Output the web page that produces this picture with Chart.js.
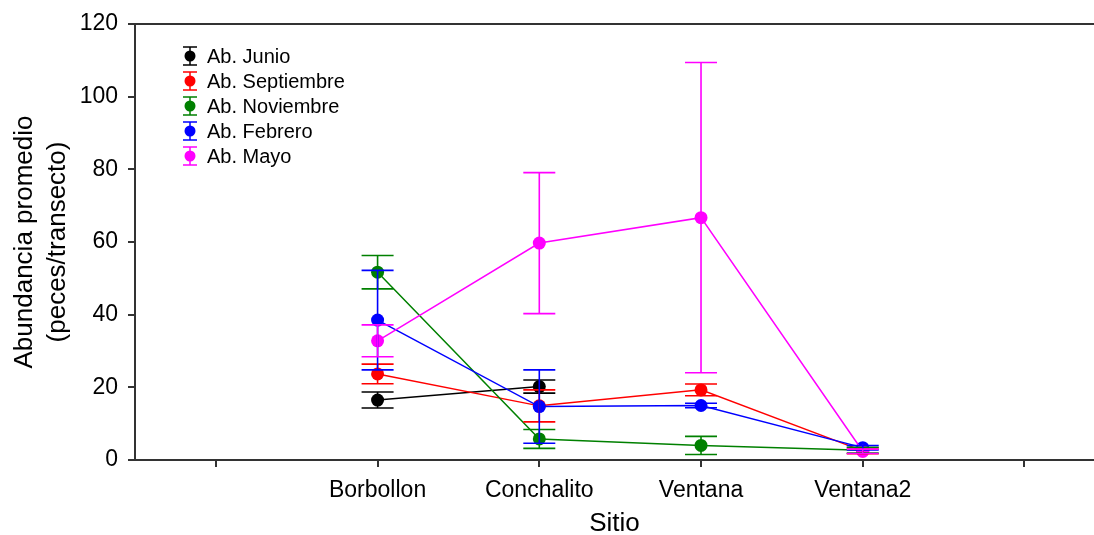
<!DOCTYPE html>
<html lang="es">
<head>
<meta charset="utf-8">
<title>Abundancia promedio por sitio</title>
<script src="https://cdn.jsdelivr.net/npm/chart.js@4.4.1/dist/chart.umd.min.js"></script>
<style>
  html, body { margin: 0; padding: 0; background: #ffffff; }
  #wrap { width: 1094px; height: 535px; }
</style>
</head>
<body>
<div id="wrap"><canvas id="chart" width="1094" height="535"></canvas></div>
<script>
// Sites sampled (x positions 1..4; 0 and 5 are empty tick slots)
const sites = ['Borbollon', 'Conchalito', 'Ventana', 'Ventana2'];
const xTickLabels = ['', 'Borbollon', 'Conchalito', 'Ventana', 'Ventana2', ''];
const yTicks = [0, 20, 40, 60, 80, 100, 120];

// Mean abundance (fish per transect) and error per sampling month
const junio       = [16.5, 20.2, null, null];
const junioErr    = [2.2, 1.8, null, null];
const septiembre  = [23.7, 14.9, 19.3, 2.5];
const septErr     = [2.7, 4.4, 1.6, 0.8];
const noviembre   = [51.7, 5.8, 4.0, 2.7];
const noviErr     = [4.6, 2.6, 2.5, 0.8];
const febrero     = [38.5, 14.7, 15.0, 3.4];
const febreroErr  = [13.7, 10.1, 0.6, 0.6];
const mayo        = [32.8, 59.7, 66.7, 2.4];
const mayoErr     = [4.4, 19.4, 42.7, 0.6];

const seriesNames  = ['Ab. Junio', 'Ab. Septiembre', 'Ab. Noviembre', 'Ab. Febrero', 'Ab. Mayo'];
const seriesValues = [junio, septiembre, noviembre, febrero, mayo];
const seriesErrors = [junioErr, septErr, noviErr, febreroErr, mayoErr];
const seriesColors = ['#000000', '#ff0000', '#008000', '#0000ff', '#ff00ff'];

const FONT = '"Liberation Sans", Arial, Helvetica, sans-serif';
const AXIS_COLOR = '#333333';

const datasets = seriesNames.map((name, i) => ({
  label: name,
  data: seriesValues[i].map((v, j) => ({ x: j + 1, y: v })),
  errors: seriesErrors[i],
  borderColor: seriesColors[i],
  backgroundColor: seriesColors[i],
  pointBackgroundColor: seriesColors[i],
  pointBorderColor: seriesColors[i],
  pointRadius: 6.5,
  pointBorderWidth: 0,
  borderWidth: 1.5,
  tension: 0,
  spanGaps: false,
  order: seriesNames.length - i
}));

// Vertical error bars with caps, drawn from each dataset's errors
const errorBars = {
  id: 'errorBars',
  afterDatasetsDraw(chart) {
    const { ctx, scales: { x, y } } = chart;
    const capHalf = 16;
    ctx.save();
    chart.data.datasets.forEach((ds) => {
      ctx.strokeStyle = ds.borderColor;
      ctx.lineWidth = 1.6;
      ds.data.forEach((pt, j) => {
        const e = ds.errors[j];
        if (pt.y == null || e == null) return;
        const px = x.getPixelForValue(pt.x);
        const yTop = y.getPixelForValue(pt.y + e);
        const yBot = y.getPixelForValue(Math.max(0, pt.y - e));
        ctx.beginPath();
        ctx.moveTo(px, yTop); ctx.lineTo(px, yBot);
        ctx.moveTo(px - capHalf, yTop); ctx.lineTo(px + capHalf, yTop);
        ctx.moveTo(px - capHalf, yBot); ctx.lineTo(px + capHalf, yBot);
        ctx.stroke();
      });
    });
    ctx.restore();
  }
};

// Top frame line and a legend with error-bar symbols inside the plot
const frameAndLegend = {
  id: 'frameAndLegend',
  afterDraw(chart) {
    const { ctx, chartArea } = chart;
    ctx.save();
    ctx.strokeStyle = AXIS_COLOR;
    ctx.lineWidth = 2;
    ctx.beginPath();
    ctx.moveTo(chartArea.left, chartArea.top);
    ctx.lineTo(chartArea.right, chartArea.top);
    ctx.stroke();

    const sx = 190, textX = 207, y0 = 56, dy = 25;
    ctx.font = '20px ' + FONT;
    ctx.textAlign = 'left';
    ctx.textBaseline = 'middle';
    chart.data.datasets.forEach((ds, i) => {
      const cy = y0 + i * dy;
      ctx.strokeStyle = ds.borderColor;
      ctx.lineWidth = 1.5;
      ctx.beginPath();
      ctx.moveTo(sx, cy - 9); ctx.lineTo(sx, cy + 9);
      ctx.moveTo(sx - 7, cy - 9); ctx.lineTo(sx + 7, cy - 9);
      ctx.moveTo(sx - 7, cy + 9); ctx.lineTo(sx + 7, cy + 9);
      ctx.stroke();
      ctx.fillStyle = ds.backgroundColor;
      ctx.beginPath();
      ctx.arc(sx, cy, 5.5, 0, Math.PI * 2);
      ctx.fill();
      ctx.fillStyle = '#000000';
      ctx.fillText(ds.label, textX, cy + 1);
    });
    ctx.restore();
  }
};

new Chart(document.getElementById('chart'), {
  type: 'line',
  data: { datasets },
  options: {
    responsive: false,
    animation: false,
    devicePixelRatio: 1,
    layout: { autoPadding: false, padding: { top: 24, right: 0, left: 0, bottom: 0 } },
    plugins: {
      legend: { display: false },
      tooltip: { enabled: false }
    },
    scales: {
      x: {
        type: 'linear',
        min: -0.5,
        max: 5.43,
        afterBuildTicks: (s) => { s.ticks = xTickLabels.map((_, i) => ({ value: i })); },
        afterFit: (s) => { s.height = 75; },
        ticks: {
          autoSkip: false,
          maxRotation: 0,
          color: '#000000',
          font: { family: FONT, size: 23 },
          padding: 10,
          callback: (v) => xTickLabels[v] ?? ''
        },
        grid: { display: true, drawOnChartArea: false, drawTicks: true, tickLength: 7, color: AXIS_COLOR, lineWidth: 2 },
        border: { display: true, color: AXIS_COLOR, width: 2 },
        title: {
          display: true,
          text: 'Sitio',
          color: '#000000',
          font: { family: FONT, size: 26, lineHeight: 0.9 },
          padding: { top: 0, bottom: -1 }
        }
      },
      y: {
        type: 'linear',
        min: 0,
        max: 120,
        afterBuildTicks: (s) => { s.ticks = yTicks.map((v) => ({ value: v })); },
        afterFit: (s) => { s.width = 135; },
        ticks: {
          color: '#000000',
          font: { family: FONT, size: 23 },
          padding: 10
        },
        grid: { display: true, drawOnChartArea: false, drawTicks: true, tickLength: 7, color: AXIS_COLOR, lineWidth: 2 },
        border: { display: true, color: AXIS_COLOR, width: 2 },
        title: {
          display: true,
          text: ['Abundancia promedio', '(peces/transecto)'],
          color: '#000000',
          font: { family: FONT, size: 26, lineHeight: 1.27 },
          padding: { top: 8, bottom: 0 }
        }
      }
    }
  },
  plugins: [errorBars, frameAndLegend]
});
</script>
</body>
</html>
